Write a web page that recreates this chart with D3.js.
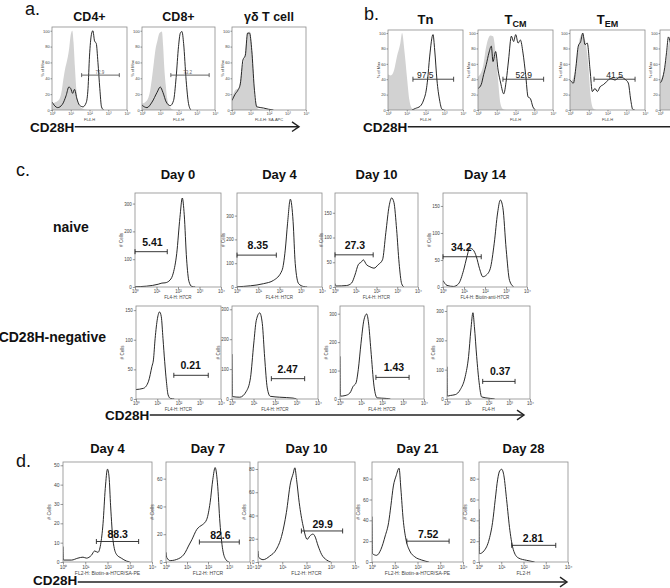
<!DOCTYPE html>
<html><head><meta charset="utf-8">
<script src="https://cdn.jsdelivr.net/npm/d3@7"></script>
<style>body{margin:0;background:#fff}svg{display:block}text{font-family:"Liberation Sans",Arial,Helvetica,sans-serif}</style>
</head><body><svg id="chart" width="670" height="588"></svg>
<script>
// ================= DATA (x in decades 10^0..10^4, y in plot units) =================
const decadeTicks = [0, 1, 2, 3, 4];
const pctTicks = [0, 20, 40, 60, 80, 100];

// ---- a. ----
const aTitles = ["CD4+", "CD8+", "γδ T cell"];
const aXLabels = ["FL4-H", "FL4-H", "FL4-H: SA-APC"];
const aIso = [
  [[0,8],[0.2,10],[0.4,14],[0.5,22],[0.6,38],[0.7,52],[0.8,62],[0.9,75],[1.0,95],[1.08,100],[1.15,85],[1.22,55],[1.3,25],[1.4,10],[1.5,4],[1.7,1],[1.9,0]],
  [[0,8],[0.27,12],[0.45,25],[0.55,41],[0.65,60],[0.73,75],[0.85,88],[0.96,97],[1.09,99],[1.16,80],[1.22,54],[1.3,32],[1.37,16],[1.55,3],[1.73,0]],
  [[0,14],[0.17,25],[0.35,27],[0.53,50],[0.7,71],[0.85,97],[0.97,99],[1.05,85],[1.12,63],[1.25,12],[1.43,1],[1.7,0]]
];
const aCD28H = [
  [[0,10],[0.3,3],[0.55,7],[0.75,18],[0.9,29],[1.0,27],[1.1,21],[1.2,26],[1.33,14],[1.47,6],[1.65,4],[1.82,9],[1.92,27],[2.0,68],[2.1,95],[2.18,100],[2.27,87],[2.36,84],[2.45,60],[2.55,27],[2.64,4],[2.75,0]],
  [[0,6],[0.27,3],[0.55,10],[0.82,22],[1.0,29],[1.15,22],[1.33,10],[1.55,5.5],[1.73,12],[1.87,41],[2.0,80],[2.1,97],[2.19,99],[2.28,84],[2.42,37],[2.55,8],[2.68,0]],
  [[0,12],[0.17,20],[0.32,25],[0.45,33],[0.59,63],[0.72,69],[0.84,97],[0.95,97],[1.07,75],[1.2,29],[1.34,4],[1.7,2.5],[1.97,1],[2.24,0]]
];
const aGates = [
  {lo:1.58, hi:3.59, v:44, label:"72.9", lx:2.56},
  {lo:1.58, hi:3.68, v:44, label:"73.2", lx:2.5},
  null
];

// ---- b. ----
const bTitles = [["Tn",""],["T","CM"],["T","EM"]];
const bIso = [
  [[0,46],[0.15,45],[0.3,50],[0.48,70],[0.66,87],[0.75,100],[0.87,78],[1.01,43],[1.14,13],[1.28,2],[1.46,0]],
  [[0,43],[0.27,57],[0.44,83],[0.66,97],[0.8,96],[0.94,74],[1.07,39],[1.19,9],[1.33,1],[1.5,0]],
  [[0,35],[0.27,50],[0.44,83],[0.62,98],[0.8,91],[0.98,57],[1.1,17],[1.24,2],[1.4,0]],
  [[0,38],[0.15,45],[0.3,60],[0.45,85],[0.6,98],[0.75,90],[0.9,55],[1.05,15],[1.2,2],[1.4,0]]
];
const bCD28H = [
  [[1.28,0],[1.46,2],[1.72,5],[1.9,13],[2.04,26],[2.11,39],[2.22,69],[2.4,98],[2.49,78],[2.61,39],[2.75,13],[2.88,1],[3.0,0]],
  [[0,28],[0.17,33],[0.3,46],[0.44,59],[0.58,74],[0.71,83],[0.8,63],[0.94,76],[1.07,52],[1.21,35],[1.37,21],[1.51,39],[1.63,65],[1.78,96],[1.9,89],[2.01,98],[2.14,87],[2.26,91],[2.4,74],[2.54,46],[2.67,17],[2.79,15],[2.93,4],[3.07,0]],
  [[0,39],[0.18,35],[0.32,57],[0.44,83],[0.57,89],[0.68,100],[0.8,85],[0.92,87],[1.07,52],[1.19,24],[1.33,28],[1.46,24],[1.6,30],[1.78,33],[1.96,37],[2.17,41],[2.4,39],[2.67,43],[2.93,40],[3.11,35],[3.24,13],[3.34,1],[3.45,0]],
  [[0,35],[0.12,40],[0.25,55],[0.35,75],[0.45,95],[0.55,88],[0.7,70],[0.9,50],[1.1,35],[1.3,30]]
];
const bGates = [
  {lo:1.33, hi:3.5, v:40, label:"97.5", lx:1.99},
  {lo:1.33, hi:3.5, v:40, label:"52.9", lx:2.44},
  {lo:1.28, hi:3.47, v:40, label:"41.5", lx:2.38},
  null
];

// ---- c. ----
const cDays = ["Day 0", "Day 4", "Day 10", "Day 14"];
const cRows = ["naive", "CD28H-negative"];
const cNaiveXLabels = ["FL4-H: H7CR", "FL4-H: H7CR", "FL4-H: H7CR", "FL4-H: Biotin-anti-H7CR"];
const cNegXLabels = ["FL4-H: H7CR", "FL4-H: H7CR", "FL4-H: H7CR", "FL4-H"];
const cNaiveMax = [338, 395, 190, 174];
const cNaiveTicks = [[0,100,200,300],[0,100,200,300],[0,50,100,150],[0,50,100,150]];
const cNaive = [
  [[0,1],[0.54,3],[1.08,10],[1.25,14],[1.4,15],[1.63,25],[1.78,50],[1.94,120],[2.09,250],[2.2,320],[2.29,260],[2.4,100],[2.51,20],[2.64,2],[2.8,0]],
  [[0,1],[0.63,5],[1.25,14],[1.72,28],[2.12,70],[2.27,155],[2.38,268],[2.51,369],[2.64,275],[2.74,99],[2.9,14],[3.13,2],[3.3,0]],
  [[0,7],[0.05,2],[0.56,3],[0.8,8],[0.96,24],[1.12,45],[1.28,51],[1.36,55],[1.52,45],[1.68,41],[1.88,38],[2.08,45],[2.29,55],[2.45,110],[2.61,164],[2.73,180],[2.84,171],[2.97,116],[3.09,48],[3.21,7],[3.32,0]],
  [[0,12],[0.19,3],[0.5,1],[0.74,6],[0.98,31],[1.14,56],[1.27,72],[1.43,69],[1.59,56],[1.74,34],[1.9,19],[2.06,22],[2.25,34],[2.44,81],[2.6,137],[2.73,161],[2.85,147],[3.01,69],[3.17,12],[3.37,0]]
];
const cNaiveGates = [
  {lo:0, hi:1.5, v:127, label:"5.41", lx:0.81},
  {lo:0, hi:1.85, v:134, label:"8.35", lx:0.98},
  {lo:0, hi:1.84, v:65, label:"27.3", lx:0.96},
  {lo:0, hi:1.82, v:56, label:"34.2", lx:0.87}
];
const cNegMax = [157, 311, 327, 317];
const cNegTicks = [[0,50,100,150],[0,100,200,300],[0,100,200,300],[0,100,200,300]];
const cNeg = [
  [[0,16],[0.35,18],[0.59,30],[0.75,55],[0.82,66],[0.9,102],[1.01,136],[1.11,147],[1.19,139],[1.27,102],[1.35,63],[1.43,30],[1.51,7],[1.62,1],[1.8,0]],
  [[0,150],[0.02,8],[0.36,6],[0.67,26],[0.86,71],[1.01,184],[1.13,263],[1.29,288],[1.41,252],[1.52,138],[1.64,37],[1.78,9],[2.22,6],[2.84,3],[3.0,0]],
  [[0,150],[0.02,10],[0.24,12],[0.47,21],[0.63,45],[0.76,56],[0.87,103],[1.0,196],[1.14,278],[1.27,299],[1.36,267],[1.47,173],[1.62,45],[1.77,4],[2.2,2],[2.4,0]],
  [[0,110],[0.02,10],[0.16,12],[0.4,15],[0.64,32],[0.88,77],[1.04,145],[1.15,235],[1.25,294],[1.32,247],[1.43,145],[1.55,55],[1.67,7],[2.08,2],[2.3,0]]
];
const cNegGates = [
  {lo:1.78, hi:3.4, v:40, label:"0.21", lx:2.57},
  {lo:1.83, hi:3.38, v:68, label:"2.47", lx:2.59},
  {lo:1.71, hi:3.29, v:76, label:"1.43", lx:2.57},
  {lo:1.72, hi:3.28, v:60, label:"0.37", lx:2.56}
];

// ---- d. ----
const dDays = ["Day 4", "Day 7", "Day 10", "Day 21", "Day 28"];
const dXLabels = ["FL2-H: Biotin-a-H7CR/SA-PE", "FL2-H: H7CR", "FL2-H: H7CR", "FL2-H: Biotin-a-H7CR/SA-PE", "FL2-H"];
const dMax = [51.7, 72, 86, 96, 96];
const dTicks = [[0,10,20,30,40,50],[0,20,40,60],[0,20,40,60,80],[0,20,40,60,80],[0,20,40,60,80]];
const dSeries = [
  [[0,8],[0.02,1],[0.38,1],[0.67,2],[0.9,2.5],[1.05,2],[1.28,3.5],[1.42,5.7],[1.57,5],[1.69,9],[1.8,20],[1.9,38],[2.0,48],[2.07,44],[2.14,29],[2.25,11],[2.4,4],[2.62,2],[2.85,0.5],[3.0,0]],
  [[0,7],[0.04,3],[0.2,1],[0.6,2.4],[0.91,6.7],[1.07,11.5],[1.23,16],[1.47,23.5],[1.59,25.4],[1.75,27],[1.94,30.7],[2.1,42.7],[2.23,59.5],[2.34,68],[2.45,57],[2.57,28],[2.7,9],[2.86,1.5],[3.0,0]],
  [[0,9.5],[0.03,4],[0.21,2],[0.48,5],[0.76,11],[0.97,22],[1.17,42.5],[1.34,68],[1.45,76],[1.52,81],[1.59,71],[1.7,51],[1.86,31],[2.03,19.5],[2.14,22.4],[2.27,24],[2.34,22.4],[2.48,13.8],[2.62,6.6],[2.83,1.7],[3.0,0]],
  [[0,43.6],[0.02,8],[0.2,6.4],[0.39,12],[0.58,25],[0.73,37.8],[0.83,54],[0.94,73],[1.06,82.7],[1.19,90],[1.27,70],[1.37,41],[1.49,22],[1.66,10.6],[1.88,5],[2.17,2],[2.5,0]],
  [[0,50.6],[0.02,8],[0.22,10.6],[0.46,22],[0.61,38],[0.73,60],[0.84,79.5],[0.93,87.5],[1.02,89],[1.12,82.7],[1.24,60],[1.39,30],[1.54,12],[1.76,4],[2.14,1.6],[2.5,0]]
];
const dGates = [
  {lo:1.5, hi:3.4, v:10.6, label:"88.3", lx:2.46},
  {lo:1.59, hi:3.49, v:14.4, label:"82.6", lx:2.59},
  {lo:1.79, hi:3.49, v:26.7, label:"29.9", lx:2.67},
  {lo:1.53, hi:3.39, v:20, label:"7.52", lx:2.47},
  {lo:1.47, hi:3.45, v:16, label:"2.81", lx:2.43}
];

// ================= DRAWING =================
const W = 670;
const svg = d3.select("#chart");
const FONT = '"Liberation Sans",Arial,Helvetica,sans-serif';
const sup = "⁰¹²³⁴";
let clipId = 0;

const styleAB = {font:4, tick:1.5, pad:0.8, ylOff:8, xlOff:11, gFont:4.5, gWeight:"normal", gFill:"#666", gStroke:"#555", lOff:1.5, cap:2};
const styleB = Object.assign({}, styleAB, {gFont:8.5, gFill:"#222", gStroke:"#333", lOff:1.2, cap:2.5});
const styleC = {font:4.5, tick:2.2, pad:1, ylOff:12, xlOff:12, gFont:10.5, gWeight:"bold", gFill:"#111", gStroke:"#222", lOff:6, cap:2.5};
const styleD = {font:5, tick:2.5, pad:1, ylOff:12, xlOff:13, gFont:10.5, gWeight:"bold", gFill:"#111", gStroke:"#222", lOff:3, cap:2.5};

function drawHist(box, cfg, st) {
  const [x0, x1, y0, y1] = box;
  const g = svg.append("g");
  const x = d3.scaleLinear().domain([0, 4]).range([x0, x1]);
  const y = d3.scaleLinear().domain([0, cfg.yMax]).range([y1, y0]);
  const id = "clip" + (clipId++);
  const visR = Math.min(x1, W);
  g.append("clipPath").attr("id", id).append("rect")
    .attr("x", x0).attr("y", y0).attr("width", visR - x0).attr("height", y1 - y0);
  const plot = g.append("g").attr("clip-path", `url(#${id})`);
  if (cfg.iso) {
    plot.append("path").datum(cfg.iso)
      .attr("d", d3.area().x(d => x(d[0])).y0(y(0)).y1(d => y(d[1])).curve(d3.curveMonotoneX))
      .attr("fill", "#d2d2d2");
  }
  plot.append("path").datum(cfg.line)
    .attr("d", d3.line().x(d => x(d[0])).y(d => y(d[1])).curve(d3.curveMonotoneX))
    .attr("fill", "none").attr("stroke", "#111").attr("stroke-width", 0.9).attr("stroke-linejoin", "round");
  g.append("rect").attr("x", x0).attr("y", y0).attr("width", x1 - x0).attr("height", y1 - y0)
    .attr("fill", "none").attr("stroke", "#8c8c8c").attr("stroke-width", 0.8);
  // axes (only ticks whose labels fit inside the picture)
  const xtv = decadeTicks.filter(d => x(d) + 4 < W);
  const ya = g.append("g").attr("transform", `translate(${x0},0)`)
    .call(d3.axisLeft(y).tickValues(cfg.yTicks).tickSize(st.tick).tickPadding(st.pad));
  const xa = g.append("g").attr("transform", `translate(0,${y1})`)
    .call(d3.axisBottom(x).tickValues(xtv).tickSize(st.tick).tickPadding(st.pad)
      .tickFormat(d => "10" + sup[d]));
  [ya, xa].forEach(a => {
    a.select(".domain").remove();
    a.selectAll("line").attr("stroke", "#555").attr("stroke-width", 0.6);
    a.selectAll("text").attr("font-size", st.font).attr("font-family", FONT).attr("fill", "#444");
  });
  g.append("text").attr("transform", `translate(${x0 - st.ylOff},${(y0 + y1) / 2}) rotate(-90)`)
    .attr("text-anchor", "middle").attr("font-size", st.font).attr("fill", "#444").text(cfg.ylab);
  if (x1 <= W) {
    g.append("text").attr("x", (x0 + x1) / 2).attr("y", y1 + st.xlOff)
      .attr("text-anchor", "middle").attr("font-size", st.font).attr("fill", "#444").text(cfg.xlab);
  }
  if (cfg.gate) {
    const gt = cfg.gate, gy = y(gt.v);
    const gg = g.append("g").attr("stroke", st.gStroke).attr("stroke-width", 0.9);
    gg.append("line").attr("x1", x(gt.lo)).attr("x2", x(gt.hi)).attr("y1", gy).attr("y2", gy);
    [gt.lo, gt.hi].forEach(v => gg.append("line").attr("x1", x(v)).attr("x2", x(v))
      .attr("y1", gy - st.cap).attr("y2", gy + st.cap));
    g.append("text").attr("x", x(gt.lx)).attr("y", gy - st.lOff).attr("text-anchor", "middle")
      .attr("font-size", st.gFont).attr("font-weight", st.gWeight).attr("fill", st.gFill).text(gt.label);
  }
}

function txt(x, y, s, size, weight, anchor) {
  return svg.append("text").attr("x", x).attr("y", y).attr("font-size", size)
    .attr("font-weight", weight || "normal").attr("text-anchor", anchor || "start")
    .attr("fill", "#111").text(s);
}

function axisArrow(xText, xEnd, yLine, head, baseline) {
  const t = txt(xText, baseline, "CD28H", 13.5, "bold");
  const tw = t.node().getComputedTextLength();
  svg.append("line").attr("x1", xText + tw + 0.5).attr("x2", xEnd).attr("y1", yLine).attr("y2", yLine)
    .attr("stroke", "#222").attr("stroke-width", 1.4);
  if (head) {
    svg.append("path").attr("d", `M${xEnd - 7},${yLine - 4.8}L${xEnd},${yLine}L${xEnd - 7},${yLine + 4.8}`)
      .attr("fill", "none").attr("stroke", "#222").attr("stroke-width", 1.4);
  }
}

// ---- panel a ----
const aBoxes = [[52, 127, 27, 110], [142, 215, 27, 110], [232, 306, 27, 110]];
txt(25, 14.5, "a.", 18);
aTitles.forEach((t, i) => txt((aBoxes[i][0] + aBoxes[i][1]) / 2, 21, t, 12.5, "bold", "middle"));
aBoxes.forEach((b, i) => drawHist(b, {yMax: 104.7, yTicks: pctTicks, ylab: "% of Max", xlab: aXLabels[i],
  iso: aIso[i], line: aCD28H[i], gate: aGates[i]}, styleAB));
axisArrow(30, 299, 126.7, true, 131.5);

// ---- panel b ----
const bBoxes = [[388, 463, 30, 110], [478, 553, 30, 110], [570, 645, 30, 110], [660, 735, 30, 110]];
txt(364, 20, "b.", 18);
bTitles.forEach((t, i) => {
  const el = txt((bBoxes[i][0] + bBoxes[i][1]) / 2, 23.5, t[0], 13, "bold", "middle");
  if (t[1]) el.append("tspan").attr("dy", 3).attr("font-size", 9).text(t[1]);
});
bBoxes.forEach((b, i) => drawHist(b, {yMax: 104, yTicks: pctTicks, ylab: "% of Max", xlab: "FL4-H",
  iso: bIso[i], line: bCD28H[i], gate: bGates[i]}, styleB));
axisArrow(363, 670, 126.7, false, 131.5);

// ---- panel c ----
const cBoxes1 = [[135, 221, 193, 287], [237, 322, 193, 287], [335, 418, 193, 287], [443, 527, 193, 287]];
const cBoxes2 = [[136, 221, 306, 399], [232, 318, 306, 399], [340, 424, 306, 399], [447, 530, 306, 399]];
txt(16, 176, "c.", 18);
cDays.forEach((t, i) => txt((cBoxes1[i][0] + cBoxes1[i][1]) / 2, 178.5, t, 13, "bold", "middle"));
txt(53, 232, cRows[0], 14, "bold");
txt(106, 342, cRows[1], 14, "bold", "end");
cBoxes1.forEach((b, i) => drawHist(b, {yMax: cNaiveMax[i], yTicks: cNaiveTicks[i], ylab: "# Cells",
  xlab: cNaiveXLabels[i], line: cNaive[i], gate: cNaiveGates[i]}, styleC));
cBoxes2.forEach((b, i) => drawHist(b, {yMax: cNegMax[i], yTicks: cNegTicks[i], ylab: "# Cells",
  xlab: cNegXLabels[i], line: cNeg[i], gate: cNegGates[i]}, styleC));
axisArrow(105, 524, 415, true, 419.5);

// ---- panel d ----
const dBoxes = [[63, 152, 462, 562], [166, 250, 462, 562], [258, 355, 462, 562], [372, 463, 462, 562], [479, 568, 462, 562]];
txt(16, 467, "d.", 18);
dDays.forEach((t, i) => txt((dBoxes[i][0] + dBoxes[i][1]) / 2, 452.5, t, 13, "bold", "middle"));
dBoxes.forEach((b, i) => drawHist(b, {yMax: dMax[i], yTicks: dTicks[i], ylab: "# Cells",
  xlab: dXLabels[i], line: dSeries[i], gate: dGates[i]}, styleD));
axisArrow(33, 567, 582, true, 584.5);
</script>
</body></html>
